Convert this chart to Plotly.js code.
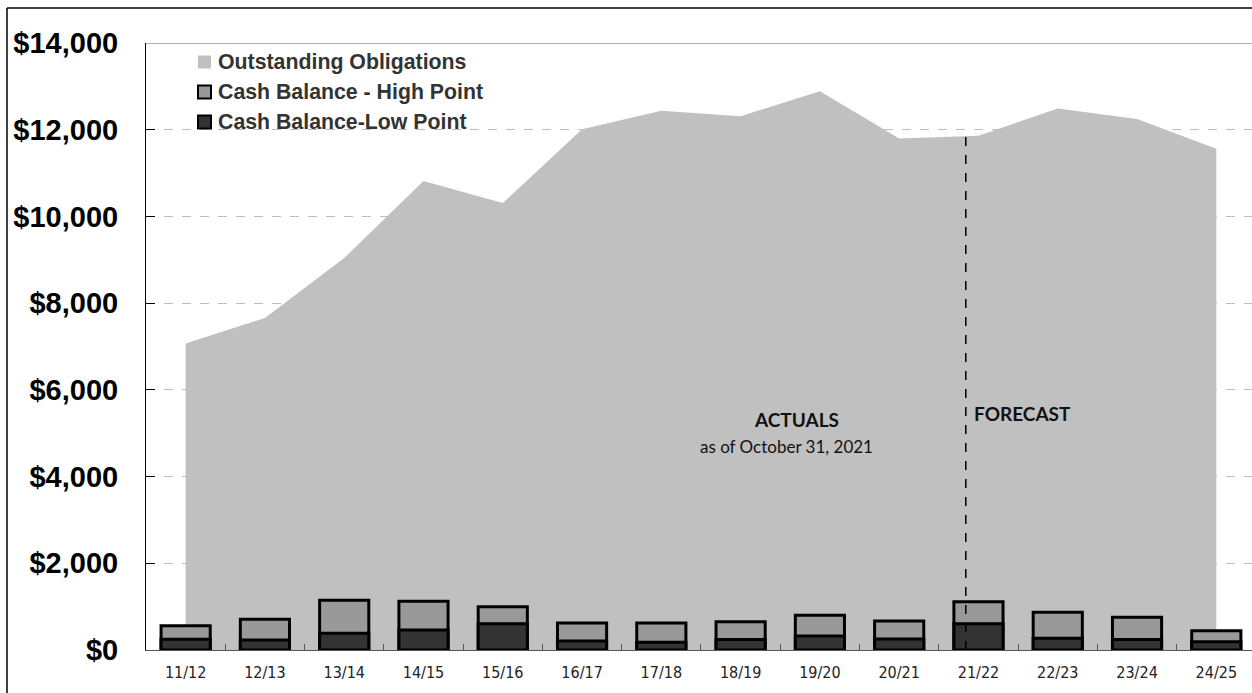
<!DOCTYPE html>
<html>
<head>
<meta charset="utf-8">
<script src="https://cdn.plot.ly/plotly-3.0.1.min.js"></script>
<style>
  html, body { margin: 0; padding: 0; background: #ffffff; }
  #chart { width: 1252px; height: 693px; }
</style>
</head>
<body>
<div id="chart"></div>
<script>
// ---- Data ($ thousands) ----
const fiscalYears = ['11/12','12/13','13/14','14/15','15/16','16/17','17/18','18/19','19/20','20/21','21/22','22/23','23/24','24/25'];
const outstandingObligations = [7070, 7660, 9040, 10820, 10310, 12010, 12440, 12310, 12890, 11800, 11860, 12490, 12250, 11560];
const cashBalanceHigh = [560, 710, 1150, 1125, 1000, 620, 620, 650, 800, 670, 1115, 870, 755, 445];
const cashBalanceLow = [250, 230, 385, 460, 605, 210, 180, 240, 325, 255, 605, 270, 245, 190];
const yTickValues = [0, 2000, 4000, 6000, 8000, 10000, 12000, 14000];
const yTickLabels = ['$0', '$2,000', '$4,000', '$6,000', '$8,000', '$10,000', '$12,000', '$14,000'];
const legendLabels = ['Outstanding Obligations', 'Cash Balance - High Point', 'Cash Balance-Low Point'];
const forecastStartPosition = 9.84; // between 20/21 and 21/22

// ---- Layout geometry ----
const W = 1252, H = 693;
const M = { l: 146, r: 0, t: 43, b: 43 };
const plotW = W - M.l - M.r, plotH = H - M.t - M.b;
const px2x = px => (px - M.l) / plotW;
const px2y = py => (H - M.b - py) / plotH;
const xRange = [-0.5, 13.45];
const yRange = [0, 14000];

// interpolate obligations at the forecast divider
const i0 = Math.floor(forecastStartPosition);
const fr = forecastStartPosition - i0;
const dividerTop = outstandingObligations[i0] + fr * (outstandingObligations[i0 + 1] - outstandingObligations[i0]);

const traces = [
  {
    type: 'scatter', mode: 'lines', x: fiscalYears, y: outstandingObligations,
    fill: 'tozeroy', fillcolor: '#c0c0c0', line: { width: 0, color: '#c0c0c0' },
    name: legendLabels[0], showlegend: false, hoverinfo: 'x+y'
  },
  {
    type: 'bar', x: fiscalYears, y: cashBalanceHigh, width: 0.62, xaxis: 'x2', yaxis: 'y2',
    marker: { color: '#999999', line: { color: '#000000', width: 3 } },
    name: legendLabels[1], showlegend: false
  },
  {
    type: 'bar', x: fiscalYears, y: cashBalanceLow, width: 0.62, xaxis: 'x2', yaxis: 'y2',
    marker: { color: '#333333', line: { color: '#000000', width: 3 } },
    name: legendLabels[2], showlegend: false
  }
];

const legendFill = ['#c0c0c0', '#999999', '#333333'];
const legendBorder = [0, 2, 2];
const legendY = [62, 92, 122];
const shapes = [];
const annotations = [];
legendLabels.forEach((lab, i) => {
  shapes.push({
    type: 'rect', xref: 'paper', yref: 'paper',
    x0: px2x(198), x1: px2x(211), y0: px2y(legendY[i] + 6.5), y1: px2y(legendY[i] - 6.5),
    fillcolor: legendFill[i],
    line: { color: '#000000', width: legendBorder[i] }
  });
  annotations.push({
    xref: 'paper', yref: 'paper', x: px2x(216), y: px2y(legendY[i]),
    xanchor: 'left', yanchor: 'middle', showarrow: false, text: lab,
    font: { family: 'Liberation Sans, Arial, sans-serif', size: 21.3, weight: 'bold', color: '#333333' }
  });
});

// top boundary line of plot (at $14,000)
shapes.push({ type: 'line', xref: 'paper', yref: 'y', x0: 0, x1: 1, y0: 14000, y1: 14000,
  line: { color: '#666666', width: 1 } });
// forecast divider (on the overlay axes so it sits above the bars)
shapes.push({ type: 'line', xref: 'x2', yref: 'y2', layer: 'above', x0: forecastStartPosition, x1: forecastStartPosition,
  y0: 0, y1: dividerTop, line: { color: '#000000', width: 1.5, dash: 'dash' } });
// outer frame (top and left)
shapes.push({ type: 'line', xref: 'paper', yref: 'paper', x0: px2x(7), x1: px2x(1252), y0: px2y(8), y1: px2y(8),
  line: { color: '#000000', width: 1.5 } });
shapes.push({ type: 'line', xref: 'paper', yref: 'paper', x0: px2x(7), x1: px2x(7), y0: px2y(8), y1: px2y(693),
  line: { color: '#000000', width: 1.5 } });

annotations.push({
  xref: 'paper', yref: 'paper', x: px2x(796), y: px2y(419), xanchor: 'center', yanchor: 'middle',
  showarrow: false, text: 'ACTUALS',
  font: { family: 'Lato, Open Sans, sans-serif', size: 19, weight: 'bold', color: '#111111' }
});
annotations.push({
  xref: 'paper', yref: 'paper', x: px2x(786), y: px2y(447), xanchor: 'center', yanchor: 'middle',
  showarrow: false, text: 'as of October 31, 2021',
  font: { family: 'Lato, Open Sans, sans-serif', size: 17, color: '#111111' }
});
annotations.push({
  xref: 'paper', yref: 'paper', x: px2x(972), y: px2y(413), xanchor: 'left', yanchor: 'middle',
  showarrow: false, text: 'FORECAST',
  font: { family: 'Lato, Open Sans, sans-serif', size: 19, weight: 'bold', color: '#111111' }
});

const layout = {
  width: W, height: H,
  margin: M,
  paper_bgcolor: '#ffffff', plot_bgcolor: '#ffffff',
  barmode: 'overlay',
  showlegend: false,
  xaxis: {
    type: 'category', range: xRange,
    showline: true, linecolor: '#555555', linewidth: 1,
    ticks: 'inside', ticklen: 6, tickcolor: '#555555', tickson: 'boundaries',
    showgrid: false, zeroline: false, fixedrange: true,
    tickfont: { family: 'DejaVu Sans Condensed, DejaVu Sans, sans-serif', size: 16, color: '#222222' },
    ticklabelstandoff: 8
  },
  yaxis: {
    range: yRange, tickvals: yTickValues, ticktext: yTickLabels,
    showline: true, linecolor: '#000000', linewidth: 1,
    ticks: 'inside', ticklen: 9, tickcolor: '#000000',
    showgrid: true, gridcolor: '#bdbdbd', gridwidth: 1, griddash: 'dash',
    zeroline: false, fixedrange: true,
    tickfont: { family: 'Liberation Sans, Arial, sans-serif', size: 29, weight: 'bold', color: '#000000' },
    ticklabelstandoff: 21
  },
  xaxis2: {
    type: 'category', overlaying: 'x', range: xRange, visible: false, fixedrange: true
  },
  yaxis2: {
    overlaying: 'y', range: yRange, visible: false, fixedrange: true
  },
  shapes: shapes,
  annotations: annotations
};

Plotly.newPlot('chart', traces, layout, { displayModeBar: false, staticPlot: true });
</script>
</body>
</html>
